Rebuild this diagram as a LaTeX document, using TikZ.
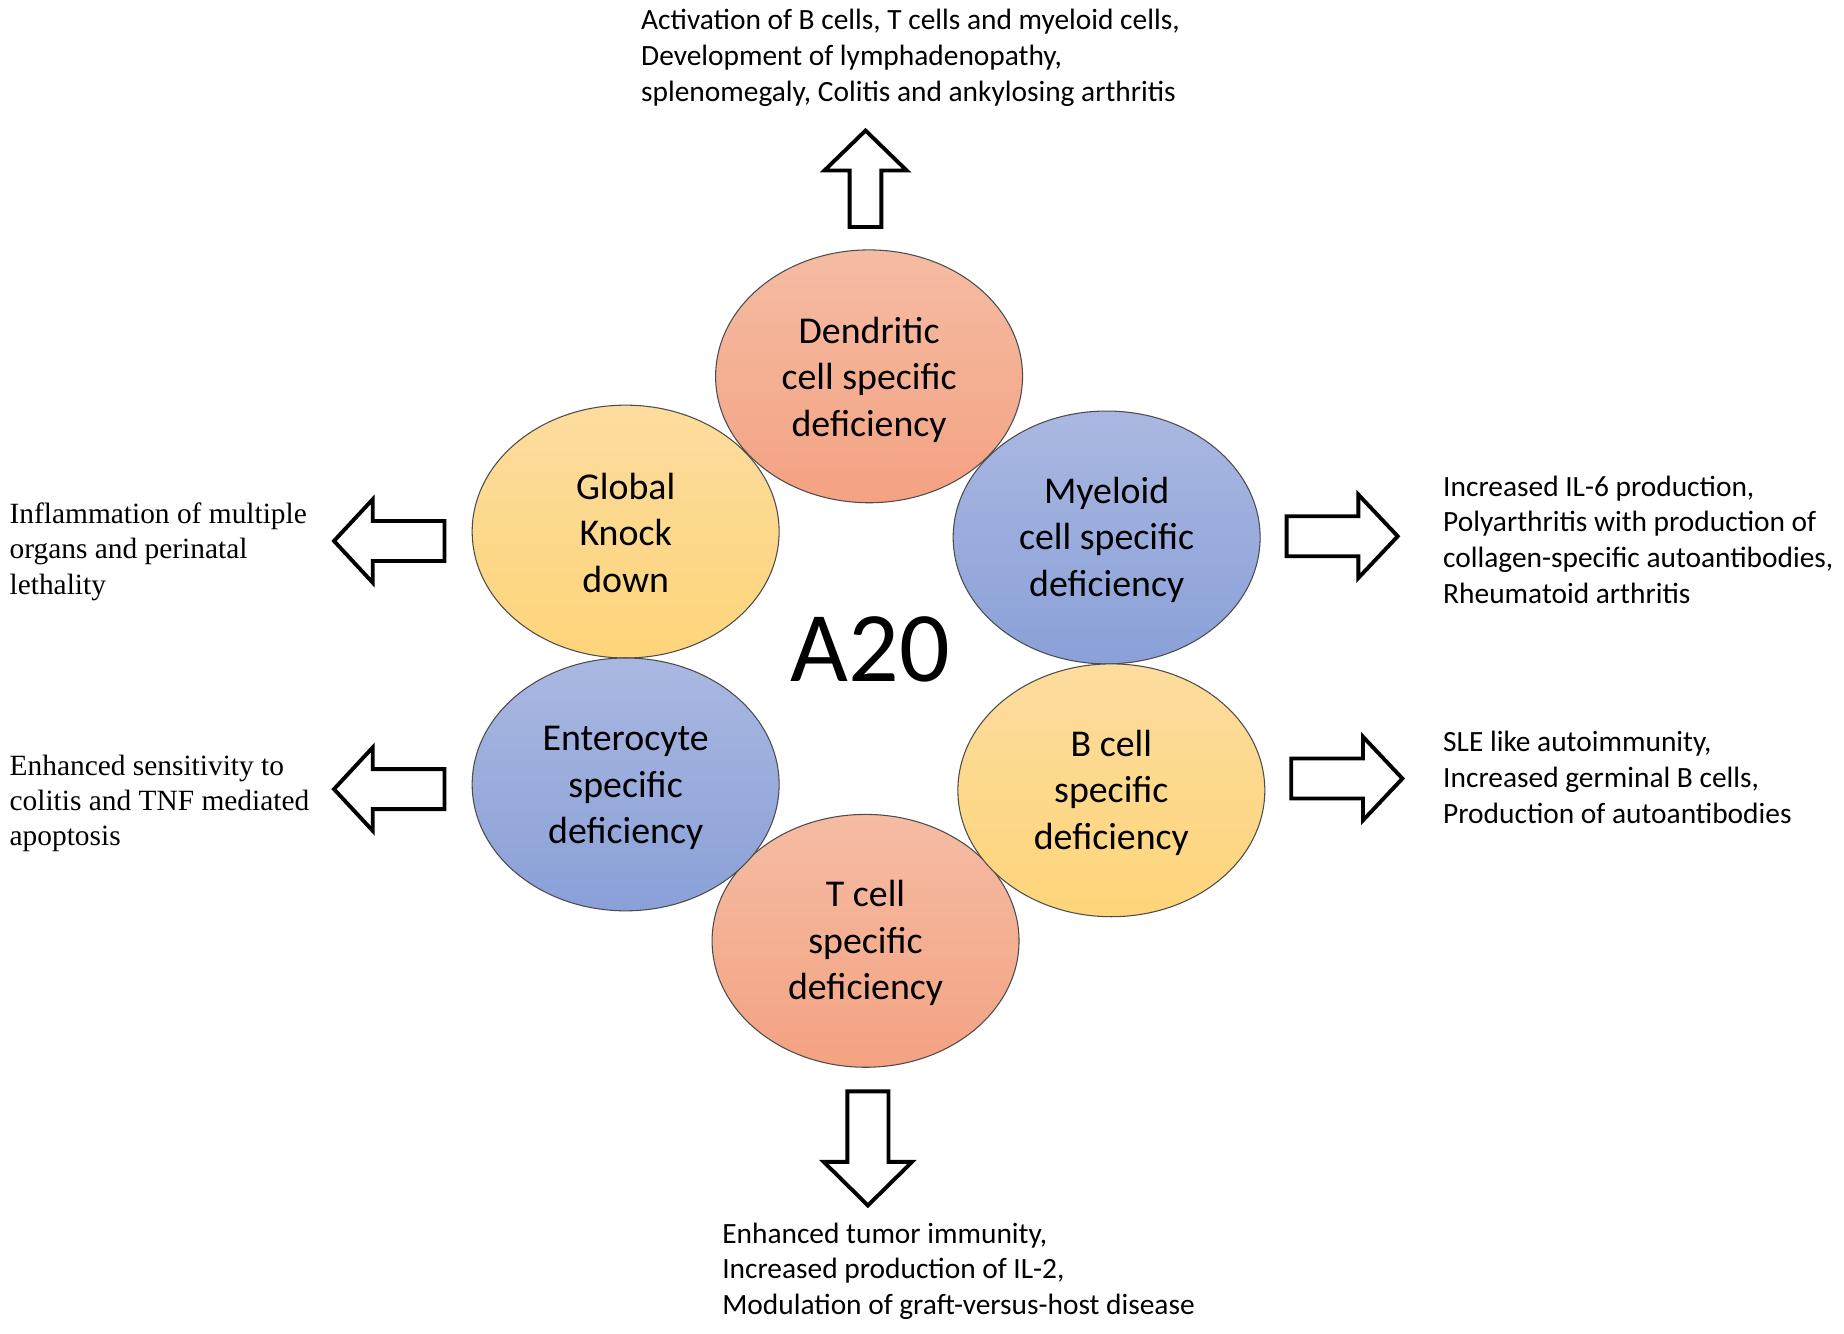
\documentclass[tikz,border=0pt]{standalone}
\usepackage{fontspec}
\setmainfont{Carlito}
\newfontfamily\timesf{Liberation Serif}
\usetikzlibrary{shapes.geometric}
\definecolor{salmonT}{HTML}{F5BCA3}
\definecolor{salmonB}{HTML}{F4A282}
\definecolor{yelT}{HTML}{FDDC9E}
\definecolor{yelB}{HTML}{FED57A}
\definecolor{bluT}{HTML}{AAB8E1}
\definecolor{bluB}{HTML}{8AA0D8}
\tikzset{
  cell/.style={ellipse, draw=black!70, line width=0.9pt, minimum width=261pt,
    minimum height=215pt, inner sep=0pt},
  celltext/.style={inner sep=0pt, align=center,
    font=\fontsize{32.2}{39.5}\selectfont},
  salmon/.style={top color=salmonT, bottom color=salmonB},
  yel/.style={top color=yelT, bottom color=yelB},
  blu/.style={top color=bluT, bottom color=bluB},
  arrowline/.style={draw=black, fill=white, line width=3.3pt, line join=miter},
  sanstext/.style={anchor=west, align=left, inner sep=0pt,
    font=\fontsize{25}{30.5}\selectfont},
  seriftext/.style={anchor=west, align=left, inner sep=0pt,
    font=\timesf\fontsize{25}{30}\selectfont},
}
% tail x, tail y, angle, shaft length, head length, shaft half width, head half width
\newcommand\blockarrow[7]{%
  \draw[arrowline, shift={(#1,#2)}, rotate=#3]
    (0,-#6) -- (#4,-#6) -- (#4,-#7) -- ({#4+#5},0) -- (#4,#7) -- (#4,#6) -- (0,#6) -- cycle;}
\begin{document}
\begin{tikzpicture}[x=1pt,y=-1pt]
\useasboundingbox[fill=white] (0,0) rectangle (1568,1133.5);

% ellipses
\node[cell, salmon] (dend) at (739,320) {};
\node[cell, salmon] (tcel) at (736,800) {};
\node[cell, yel]    (glob) at (532,452) {};
\node[cell, blu]    (myel) at (941,457) {};
\node[cell, blu]    (ente) at (532,667) {};
\node[cell, yel]    (bcel) at (945,672) {};

\node[celltext] (ldend) at ([yshift=-3pt]dend.center) {Dendritic\\cell specific\\deficiency};
\node[celltext] (ltcel) at ([yshift=-2pt]tcel.center) {T cell\\specific\\deficiency};
\node[celltext] (lglob) at ([yshift=-1pt]glob.center) {Global\\Knock\\down};
\node[celltext] (lmyel) at ([yshift=-2pt]myel.center) {Myeloid\\cell specific\\deficiency};
\node[celltext] (lente) at ([yshift=-3pt]ente.center) {Enterocyte\\specific\\deficiency};
\node[celltext] (lbcel) at ([yshift=-2pt]bcel.center) {B cell\\specific\\deficiency};

\node[inner sep=0pt, font=\fontsize{85}{90}\selectfont] (a20) at (740,552) {A20};

% arrows
\blockarrow{736}{193}{90}{48}{34}{13.5}{35}
\blockarrow{738}{928}{-90}{60}{37}{17.5}{37.5}
\blockarrow{378}{460}{180}{61}{33}{17}{35.5}
\blockarrow{378}{671}{180}{61}{33}{17}{35.5}
\blockarrow{1094}{456}{0}{61}{33.5}{17}{35.5}
\blockarrow{1098}{662}{0}{61}{33.5}{17}{35.5}

% texts
\node[sanstext] (ttop) at (545,49) {Activation of B cells, T cells and myeloid cells,\\Development of lymphadenopathy,\\splenomegaly, Colitis and ankylosing arthritis};
\node[sanstext] (tmyel) at (1227,459) {Increased IL-6 production,\\Polyarthritis with production of\\collagen-specific autoantibodies,\\Rheumatoid arthritis};
\node[sanstext] (tbcel) at (1227,661) {SLE like autoimmunity,\\Increased germinal B cells,\\Production of autoantibodies};
\node[sanstext] (tbot) at (614,1081) {Enhanced tumor immunity,\\Increased production of IL-2,\\Modulation of graft-versus-host disease};
\node[seriftext] (tglob) at (8,469) {Inflammation of multiple\\organs and perinatal\\lethality};
\node[seriftext] (tente) at (8,683) {Enhanced sensitivity to\\colitis and TNF mediated\\apoptosis};
\end{tikzpicture}
\end{document}
